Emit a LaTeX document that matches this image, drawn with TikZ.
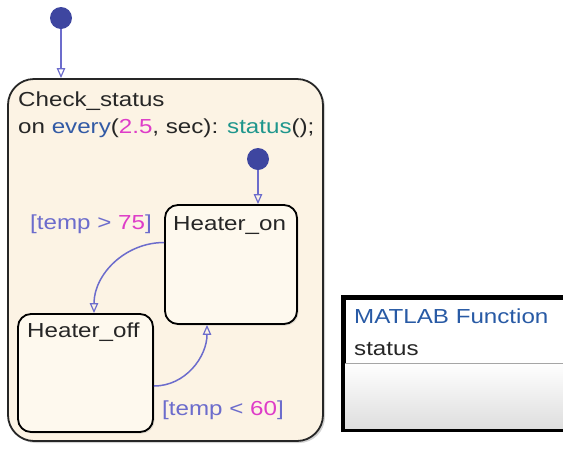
\documentclass[tikz,border=0pt]{standalone}
\usepackage{fontspec}
\setmainfont{Liberation Sans}[FakeStretch=1.19]
\usepackage{tikz}
\usetikzlibrary{arrows.meta,positioning,shadows}
\definecolor{creamout}{RGB}{252,243,228}
\definecolor{creamin}{RGB}{254,249,238}
\definecolor{dotblue}{RGB}{62,70,160}
\definecolor{guardblue}{RGB}{108,108,204}
\definecolor{numpink}{RGB}{222,60,200}
\definecolor{kwblue}{RGB}{50,90,165}
\definecolor{fnteal}{RGB}{30,150,140}
\definecolor{mlblue}{RGB}{40,90,165}

\begin{document}
\begin{tikzpicture}[x=1pt,y=-1pt, every node/.style={font=\fontsize{20.3}{24}\selectfont},
  chartbox/.style={draw=black!85,line width=1.8pt,fill=creamout,rounded corners=26pt,
               inner sep=0pt,drop shadow={shadow xshift=2pt,shadow yshift=-2pt,opacity=.35}},
  statebox/.style={draw=black,line width=1.8pt,fill=creamin,rounded corners=13pt,inner sep=0pt,
               drop shadow={shadow xshift=1.5pt,shadow yshift=-1.5pt,opacity=.25}},
  initdot/.style={circle,fill=dotblue,minimum size=22pt,inner sep=0pt},
  titletext/.style={anchor=base west,inner sep=0pt,text=black!85},
  guardtext/.style={anchor=base west,inner sep=0pt,text=guardblue},
  mlbox/.style={draw=black,line width=3pt,fill=white,inner sep=0pt,minimum width=232pt,
               minimum height=131pt,drop shadow={shadow xshift=2.5pt,shadow yshift=-2.5pt,opacity=.35}},
  trans/.style={-{Triangle[open,length=10pt,width=8.5pt,line width=1.2pt]},draw=guardblue,line width=1.5pt}]
\clip (0,0) rectangle (563,448);

% chart and its default transition
\node[chartbox,minimum width=315pt,minimum height=362pt] (chk) at (165.5,260) {};
\node[initdot] (init) at (61,18) {};
\draw[trans] (init) -- (init |- chk.north);
\node[titletext] (chkname) at (18,106) {Check\_status};
\node[titletext] (chkact) at (18,133) {on \textcolor{kwblue}{every}(\textcolor{numpink}{2.5}, sec):
  \textcolor{fnteal}{status}();};

% substates
\node[statebox,minimum width=132pt,minimum height=119pt] (on) at (231,264.5) {};
\node[statebox,minimum width=135pt,minimum height=118pt] (off) at (85.5,373) {};
\node[titletext] (onname) at (173,230) {Heater\_on};
\node[titletext] (offname) at (27,337) {Heater\_off};
\node[initdot] (init2) at (258,159) {};
\draw[trans] (init2) -- (init2 |- on.north);

\draw[trans] ([yshift=22pt]on.west) to[out=180,in=90] ([xshift=8.5pt]off.north);
\draw[trans] ([yshift=-13pt]off.east) to[out=0,in=-90] ([xshift=-24pt]on.south);
\node[guardtext] (hot) at (30,229) {[temp > \textcolor{numpink}{75}]};
\node[guardtext] (cold) at (162,415) {[temp < \textcolor{numpink}{60}]};

% matlab function block
\node[mlbox] (mlfn) at (460,363.5) {};
\coordinate (sep) at (345,363);
\shade[top color=white,bottom color=black!13] (sep) rectangle ([shift={(-1.5pt,1.5pt)}]mlfn.south east);
\draw[black!35,line width=0.8pt] (sep) -- (sep -| mlfn.east);
\draw[line width=3pt] (mlfn.north west) rectangle (mlfn.south east);
\node[titletext,text=mlblue] (mlhead) at (354,323) {MATLAB Function};
\node[titletext] (mlname) at (354,355) {status};
\end{tikzpicture}
\end{document}
